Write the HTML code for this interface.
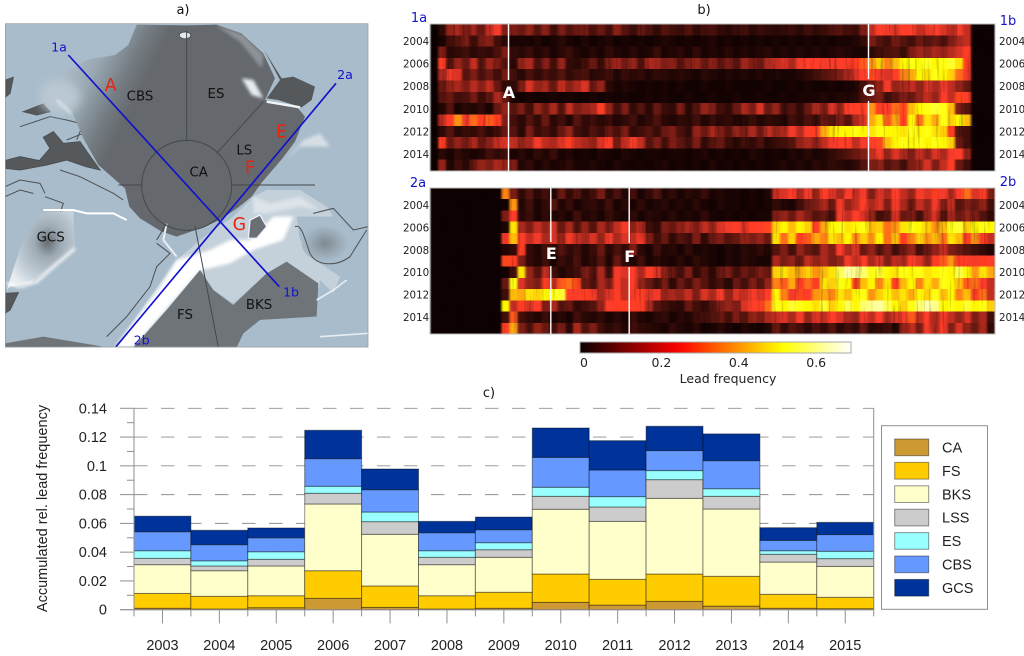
<!DOCTYPE html>
<html lang="en">
<head>
<meta charset="utf-8">
<title>Arctic lead frequency</title>
<style>
html,body{margin:0;padding:0;background:#fff;width:1024px;height:656px;overflow:hidden}
svg{display:block}
.dv{font-family:"DejaVu Sans","Liberation Sans",sans-serif}
.ls{font-family:"Liberation Sans",sans-serif}
</style>
</head>
<body>
<svg id="fig" xmlns="http://www.w3.org/2000/svg" width="1024" height="656" viewBox="0 0 1024 656">
<defs>
<linearGradient id="basinGrad" gradientUnits="userSpaceOnUse" x1="160" y1="240" x2="380" y2="350">
<stop offset="0" stop-color="#b0c0cc"/><stop offset=".4" stop-color="#98a7b2"/><stop offset=".75" stop-color="#757d83"/><stop offset="1" stop-color="#65696d"/>
</linearGradient>
<radialGradient id="gcsGrad" cx=".6" cy=".4" r=".65">
<stop offset="0" stop-color="#666b6f"/><stop offset=".3" stop-color="#9eabb5"/><stop offset=".75" stop-color="#c6d1da"/><stop offset="1" stop-color="#e6ecf0"/>
</radialGradient>
<radialGradient id="karaGrad" cx=".5" cy=".5" r=".5">
<stop offset="0" stop-color="#7f8a92"/><stop offset="1" stop-color="#a9bccb"/>
</radialGradient>
<filter id="b1" x="-10%" y="-10%" width="120%" height="120%"><feGaussianBlur stdDeviation="5"/></filter>
<filter id="b2" x="-20%" y="-20%" width="140%" height="140%"><feGaussianBlur stdDeviation="14"/></filter>
<filter id="streaks" x="0" y="0" width="100%" height="100%" color-interpolation-filters="sRGB">
<feGaussianBlur in="SourceGraphic" stdDeviation="1.1 0.25" result="soft"/>
<feTurbulence type="fractalNoise" baseFrequency="0.38 0.02" numOctaves="2" seed="7" result="noise"/>
<feColorMatrix in="noise" type="matrix" values="0.9 0 0 0 0.6  0.9 0 0 0 0.6  0.9 0 0 0 0.6  0 0 0 0 1" result="gain"/>
<feBlend in="soft" in2="gain" mode="multiply"/>
</filter>
<clipPath id="mapClip"><rect x="15" y="70" width="1090" height="972"/></clipPath>
</defs>

<text class="dv" x="183" y="14" font-size="13" text-anchor="middle" fill="#111">a)</text>
<text class="dv" x="704" y="14" font-size="13" text-anchor="middle" fill="#111">b)</text>
<text class="dv" x="489" y="397" font-size="13" text-anchor="middle" fill="#111">c)</text>

<g id="arctic-map" transform="scale(.33333)">
<g clip-path="url(#mapClip)">
<rect x="15" y="70" width="1090" height="972" fill="#a9bccb"/>
<!-- Canadian archipelago -->
<g fill="#55595c" stroke="#4c5053" stroke-width="3">
<path d="M15 482 L60 470 L118 482 L150 445 L130 412 L160 395 L190 430 L240 425 L270 468 L300 510 L258 500 L200 480 L140 495 L60 510 L15 505Z"/>
<path d="M70 335 L130 312 L150 335 L110 345Z"/>
<path d="M18 240 L40 232 L30 280 L18 290Z"/>
<path d="M15 880 L55 878 L30 930 L15 940Z"/>
</g>
<g fill="none" stroke="#4c5053" stroke-width="3">
<path d="M180 510 L240 530 L300 560 L340 580 L370 600"/>
<path d="M135 590 L190 610 L180 640"/>
<path d="M15 560 L60 540 L120 550 L135 580 M15 590 L60 570 L100 580"/>
<path d="M60 380 L150 350 L200 360 L240 370"/>
<path d="M250 370 L230 420 M200 420 L250 400"/>
</g>
<!-- central basin -->
<path d="M410 74 L560 76 L650 74 L725 100 L790 160 L825 235 L795 300 L890 320 L915 350 L885 425 L845 478 L785 548 L755 590 L715 622 L660 660 L600 685 L530 710 L485 695 L420 655 L388 620 L375 565 L295 495 L250 415 L220 345 L170 300 L145 285 L195 215 L265 178 L345 165 L385 135Z" fill="url(#basinGrad)"/>
<ellipse cx="180" cy="290" rx="60" ry="50" fill="#bac8d3" filter="url(#b2)"/>
<path d="M645 74 L730 104 L790 165 L785 205 L720 125 Z" fill="#c9d4dc" opacity=".4" filter="url(#b1)"/>
<path d="M170 300 L215 340" stroke="#e9eef2" stroke-width="6" filter="url(#b1)"/>
<ellipse cx="555" cy="106" rx="17" ry="10" fill="#e4eaef" stroke="#444" stroke-width="2"/>
<!-- laptev & east siberian land -->
<path d="M792 150 L845 235 L880 230 L945 260 L935 300 L905 322 L835 300 L800 295 L840 240 Z" fill="#55595c"/>
<path d="M725 235 L760 240 L790 295 L755 285Z" fill="#e6edf2" filter="url(#b1)"/>
<path d="M800 305 L900 322" stroke="#f2f5f7" stroke-width="7" fill="none"/>
<path d="M860 480 L910 420 L960 400 L990 440 L900 440Z" fill="#d5dee5" filter="url(#b1)"/>
<!-- Barents/Kara shelf -->
<path d="M700 650 L760 590 L800 570 L900 570 L980 620 L1000 650 L890 650 L900 720 L960 790 L1020 830 L1000 880 L950 860 L860 790 L800 820 L700 910 L640 870 L600 810 L400 1040 L345 1040 L530 780 L600 720 L640 690Z" fill="#c4d0da"/>
<path d="M345 1042 L400 1042 L480 950 L600 812 L690 790 L760 750 L850 720 L880 650 L820 650 L750 720 L690 720 L630 750 L530 780 L480 860 Z" fill="#ffffff" filter="url(#b1)"/>
<path d="M760 590 L810 610 L900 590 L960 630 L900 620 L800 640 L760 640Z" fill="#dde4ea" filter="url(#b1)"/>
<!-- Kara sea -->
<ellipse cx="975" cy="730" rx="70" ry="55" fill="url(#karaGrad)"/>
<path d="M885 680 C905 670 915 720 930 760 C950 800 1010 800 1050 770 L1100 690" fill="none" stroke="#4c5053" stroke-width="3"/>
<path d="M940 640 L1000 625 L1060 690 L1105 680" fill="none" stroke="#4c5053" stroke-width="3"/>
<!-- Svalbard -->
<path d="M750 660 L780 645 L800 680 L770 715 L745 715Z" fill="#6a6f73" stroke="#eef" stroke-width="4"/>
<!-- bottom open ocean -->
<path d="M600 810 L640 870 L700 915 L800 820 L860 785 L955 850 L950 950 L780 960 L730 1000 L710 1042 L400 1042 L500 930 Z" fill="#6f7479"/>
<path d="M15 1042 L15 1030 L130 1010 L310 1040Z" fill="#6f7479"/>
<path d="M960 840 L1000 880 L990 950 L960 1000 L900 1042 L720 1042 L780 960 L950 950Z" fill="#a9bccb"/>
<path d="M960 1010 L1105 1000 M950 900 L1000 870 L1040 840" fill="none" stroke="#e6edf2" stroke-width="5"/>
<!-- GCS -->
<path d="M20 870 L60 745 L120 640 L220 630 L225 740 L160 800 L90 850 L30 860Z" fill="url(#gcsGrad)"/>
<path d="M20 850 L60 860 L110 845 L160 800 L225 745" fill="none" stroke="#fff" stroke-width="8" filter="url(#b1)"/>
<path d="M130 630 L220 630 L260 640 L340 640 L380 660" fill="none" stroke="#fff" stroke-width="6"/>
<!-- Greenland coast -->
<path d="M470 730 L510 760 L470 800 L450 860 L380 950 L320 1010" fill="none" stroke="#4c5053" stroke-width="3"/>
<path d="M500 670 L490 720 L530 770" fill="none" stroke="#e9eef2" stroke-width="6"/>
<!-- Region lines -->
<g fill="none" stroke="#44484b" stroke-width="3">
<circle cx="560" cy="556" r="135"/>
<path d="M560 92 V421"/><path d="M790 305 L650 460"/><path d="M695 555 H945"/><path d="M425 555 H355"/><path d="M500 670 L470 720"/><path d="M585 678 L655 1042"/>
</g>
<line x1="205" y1="165" x2="838" y2="860" stroke="#1212cc" stroke-width="5"/>
<line x1="1008" y1="250" x2="348" y2="1040" stroke="#1212cc" stroke-width="5"/>
<rect x="15" y="70" width="1090" height="972" fill="none" stroke="#999" stroke-width="4"/>
</g>
<g class="dv" font-size="40" fill="#111" text-anchor="middle">
<text x="420" y="302">CBS</text>
<text x="648" y="294">ES</text>
<text x="733" y="464">LS</text>
<text x="596" y="530">CA</text>
<text x="152" y="724">GCS</text>
<text x="777" y="927">BKS</text>
<text x="555" y="957">FS</text>
</g>
<g class="dv" font-size="52" fill="#e8240c" text-anchor="middle">
<text x="332" y="273">A</text>
<text x="845" y="413">E</text>
<text x="750" y="520">F</text>
<text x="718" y="690">G</text>
</g>
<g class="dv" font-size="38" fill="#1212cc" text-anchor="middle">
<text x="177" y="154">1a</text>
<text x="873" y="889">1b</text>
<text x="1035" y="237">2a</text>
<text x="425" y="1034">2b</text>
</g>
</g>

<g id="heatLayer"></g>
<g id="barLayer"></g>
</svg>

<script>
// Panel b: lead frequency (in hundredths), one row per year, transect 1a-1b
const heatTop = [
[0,6,16,18,14,17,12,20,24,14,14,12,16,10,15,8,14,10,12,13,9,12,8,15,10,7,12,9,6,10,8,7,10,6,8,9,6,5,7,8,5,7,6,5,6,7,5,8,6,7,9,10,8,7,14,20,26,24,22,27,25,20,23,26,22,19,24,20,1,1,1],
[0,3,8,10,14,7,13,15,8,5,3,3,3,4,2,3,5,3,2,4,2,3,4,2,3,2,3,2,3,4,3,2,3,2,3,4,2,3,2,3,2,3,2,3,2,3,2,3,2,3,2,3,3,4,6,14,10,8,13,10,8,12,10,12,9,14,18,20,1,1,1],
[0,14,5,6,8,5,7,6,9,14,6,5,7,4,6,3,5,7,4,3,5,3,6,4,3,5,3,4,7,3,4,5,3,6,3,4,3,5,3,4,3,4,5,3,4,3,4,3,4,3,4,5,4,3,3,6,8,9,10,7,14,17,15,18,16,19,22,26,1,1,1],
[0,28,10,16,12,20,10,17,14,10,5,16,18,9,15,8,16,6,5,8,12,7,14,17,13,16,9,18,17,14,15,10,14,16,12,15,11,14,10,17,14,12,18,20,22,18,24,26,25,24,24,26,26,30,34,40,46,38,44,50,52,51,53,50,52,54,48,30,1,1,1],
[0,18,24,22,10,14,9,12,8,14,8,5,9,6,9,7,10,6,8,9,5,6,8,4,7,5,6,4,6,5,4,5,4,3,5,4,3,4,3,4,3,4,3,4,3,3,4,6,8,10,12,14,18,22,26,32,24,22,28,38,42,50,48,52,50,46,36,24,1,1,1],
[0,12,16,18,14,19,15,20,12,6,6,14,22,16,18,12,20,15,18,22,12,16,5,3,4,3,2,3,2,3,2,3,2,2,3,2,2,3,2,2,2,2,3,2,2,3,2,3,2,2,3,2,3,4,8,12,16,24,16,18,20,16,22,18,24,20,16,12,1,1,1],
[0,10,12,8,9,13,7,11,18,12,3,2,3,2,2,3,2,3,2,2,3,2,3,2,3,2,2,3,2,3,2,2,3,2,2,3,2,2,3,2,2,3,2,2,3,2,3,3,3,4,3,4,4,5,10,12,14,8,10,14,12,16,20,16,26,20,32,26,1,1,1],
[0,4,10,3,5,4,6,3,12,16,10,14,8,16,12,18,10,20,14,16,18,30,16,8,14,6,10,5,12,7,6,14,5,10,16,14,8,6,12,18,14,22,12,16,8,10,6,12,18,14,22,16,28,26,30,40,30,26,36,32,44,50,52,54,52,44,14,10,1,1,1],
[0,20,26,40,24,36,30,34,30,14,8,5,10,6,12,5,8,4,10,6,8,5,7,4,6,8,4,6,9,5,4,6,5,8,4,7,5,6,4,5,7,4,6,5,4,8,6,9,7,12,10,14,10,18,22,42,48,34,42,30,50,36,48,42,52,46,50,44,1,1,1],
[0,6,10,5,7,6,9,5,8,12,10,5,14,7,9,6,12,16,8,6,10,7,12,9,14,6,8,10,7,12,14,9,6,16,12,18,14,10,16,14,18,12,20,16,18,24,20,26,30,42,48,50,50,52,50,48,52,50,50,48,52,50,52,48,46,30,10,8,1,1,1],
[0,30,12,16,13,18,12,15,20,22,20,16,18,24,20,18,22,30,20,18,16,22,26,13,20,24,20,10,14,8,14,11,8,14,6,10,12,7,5,8,6,9,5,7,8,10,16,18,15,20,24,26,28,20,24,26,32,44,50,52,50,52,50,52,50,46,12,8,1,1,1],
[0,5,3,6,4,3,4,8,6,8,3,5,3,6,4,7,3,4,2,3,2,4,3,2,4,3,2,3,3,2,3,3,2,3,4,2,3,2,3,2,4,3,2,3,2,4,3,5,3,4,6,8,10,12,14,20,24,16,22,18,14,20,16,22,18,24,26,16,1,1,1],
[0,16,4,8,5,12,16,14,18,16,14,4,6,3,5,3,4,6,3,3,4,3,2,4,3,2,3,2,3,4,2,3,2,3,2,4,2,3,2,3,2,3,2,3,4,3,4,3,5,4,6,5,4,6,10,14,16,10,12,8,14,16,22,14,20,30,12,8,1,1,1]
];
// Panel b: transect 2a-2b
const heatBottom = [
[1,1,1,1,1,1,1,1,1,38,14,6,10,5,8,4,12,6,10,5,8,14,5,9,4,8,3,6,10,4,6,3,5,4,7,3,4,3,3,2,3,2,4,20,22,26,18,24,16,28,22,18,26,20,24,14,22,18,26,20,16,26,22,30,24,18,26,36,22,28,14],
[1,1,1,1,1,1,1,1,1,2,40,4,8,3,6,10,4,7,3,5,6,4,8,3,5,3,6,3,4,5,3,4,3,5,3,2,4,3,3,2,3,2,3,6,4,3,8,12,14,18,12,24,16,20,26,18,22,14,24,18,12,20,16,24,14,20,10,14,12,16,8],
[1,1,1,1,1,1,1,1,1,14,26,5,7,3,6,4,5,3,8,4,5,3,7,4,3,6,3,5,4,3,5,3,4,3,6,3,2,3,2,3,2,3,3,14,16,12,18,14,10,12,8,24,20,26,22,16,8,10,22,12,14,8,16,22,10,18,12,16,14,10,6],
[1,1,1,1,1,1,1,1,1,3,48,18,14,20,16,22,12,18,10,16,10,18,14,20,24,16,20,8,6,14,12,16,18,14,20,16,22,24,26,22,28,26,32,46,50,44,50,46,28,42,50,52,48,50,52,44,46,36,40,48,52,50,46,40,44,52,54,46,50,52,50],
[1,1,1,1,1,1,1,1,1,24,44,26,20,24,18,22,16,24,20,18,22,16,24,18,22,20,26,14,8,12,6,10,8,14,6,12,14,10,12,16,14,16,12,48,36,46,30,34,42,38,48,44,50,38,46,40,50,36,44,30,38,46,40,44,36,48,44,30,40,28,20],
[1,1,1,1,1,1,1,1,1,4,6,30,6,4,8,5,10,6,8,4,7,12,5,9,6,14,5,3,8,4,5,3,6,3,4,3,2,4,3,5,4,6,4,10,14,8,16,12,10,18,14,26,18,22,12,16,10,14,8,12,16,8,12,16,20,14,12,10,8,6,4],
[1,1,1,1,1,1,1,1,1,32,30,14,6,4,8,3,7,5,9,4,6,10,4,12,6,4,8,3,5,4,3,5,3,6,4,3,2,4,3,5,4,3,3,18,14,16,12,20,16,18,14,16,24,20,26,18,22,14,20,18,26,22,16,28,34,40,30,26,24,30,26],
[1,1,1,1,1,1,1,1,1,2,8,48,16,10,20,8,4,6,8,14,10,18,8,24,22,26,18,28,22,16,12,8,14,6,10,5,12,14,8,12,10,14,12,46,48,44,42,46,40,44,48,56,62,60,58,52,54,50,48,52,50,52,48,50,52,50,56,50,40,48,42],
[1,1,1,1,1,1,1,1,1,12,52,22,16,14,28,20,34,36,32,12,10,18,14,24,20,26,16,12,8,14,6,12,8,14,10,6,9,5,12,8,14,10,16,38,34,42,30,36,28,48,46,52,50,30,44,50,38,48,30,44,50,38,48,42,52,50,44,34,36,26,20],
[1,1,1,1,1,1,1,1,1,8,44,42,48,46,50,52,54,28,26,30,24,18,22,28,20,24,30,22,24,16,18,16,20,14,22,18,24,16,22,20,24,22,26,50,38,24,32,26,40,42,38,48,44,50,52,40,46,50,44,48,42,50,46,52,44,50,38,44,30,36,20],
[1,1,1,1,1,1,1,1,1,50,20,30,22,26,14,18,10,12,6,8,10,16,26,28,30,26,30,18,10,8,6,5,12,8,6,10,14,16,14,22,26,30,36,52,50,54,52,50,48,54,46,50,56,50,58,60,62,56,50,46,52,58,62,60,50,52,50,54,50,52,46],
[1,1,1,1,1,1,1,1,1,8,34,8,6,4,7,3,5,3,8,5,4,6,3,5,3,7,4,3,5,6,3,5,4,7,8,10,12,8,14,10,16,14,18,20,22,18,24,16,22,20,26,22,18,16,24,20,26,18,22,24,34,20,26,18,24,20,16,22,14,18,8],
[1,1,1,1,1,1,1,1,1,30,42,14,10,16,12,8,14,6,18,10,14,8,5,7,4,8,6,5,4,3,6,4,3,5,2,3,5,3,2,4,3,2,4,12,6,10,8,5,9,6,10,5,8,6,12,5,6,8,4,16,20,14,24,18,26,14,22,16,12,18,6]
];
const heatYearLabels = ['2004','2006','2008','2010','2012','2014'];
const colorbarTicks = [0, 0.2, 0.4, 0.6];
const colorbarMax = 0.70;

// Panel c: stacked bars
const barYears = ['2003','2004','2005','2006','2007','2008','2009','2010','2011','2012','2013','2014','2015'];
const seriesNames = ['CA','FS','BKS','LSS','ES','CBS','GCS'];
const seriesCA  = [.001,.0005,.0014,.0079,.0016,.0005,.001,.0051,.0032,.0058,.0025,.001,.0007];
const seriesFS  = [.0103,.0088,.0083,.0192,.0149,.0092,.0111,.0197,.0179,.019,.0207,.0097,.0079];
const seriesBKS = [.02,.0178,.0207,.0464,.0359,.0216,.0243,.045,.0403,.0526,.0468,.0224,.0215];
const seriesLSS = [.0044,.0033,.0046,.0074,.0088,.0051,.0053,.009,.01,.013,.0088,.0054,.0054];
const seriesES  = [.0053,.0036,.0053,.0049,.0067,.0046,.0049,.0063,.0072,.0063,.0053,.0025,.0051];
const seriesCBS = [.0132,.0112,.0097,.0192,.0155,.0125,.009,.0208,.0185,.0139,.0195,.0072,.0116];
const seriesGCS = [.0108,.01,.0068,.0197,.0144,.0079,.0088,.0204,.0204,.0169,.0186,.0088,.0085];
const seriesColors = ['#cc9933','#ffcc00','#ffffcc','#cccccc','#99ffff','#6699ff','#003399'];
const yTickLabels = ['0','0.02','0.04','0.06','0.08','0.1','0.12','0.14'];
const yTickValues = [0,0.02,0.04,0.06,0.08,0.1,0.12,0.14];

const NS = 'http://www.w3.org/2000/svg';
function mk(tag, parent, attrs, txt){
  const e = document.createElementNS(NS, tag);
  for (const k in attrs) e.setAttribute(k, attrs[k]);
  if (txt !== undefined) e.textContent = txt;
  parent.appendChild(e);
  return e;
}
function clamp01(x){ return Math.max(0, Math.min(1, x)); }
// Pure colour scale, used for the colorbar
function hot(v){
  const f = clamp01(v / 0.68);
  const r = Math.min(1, f / 0.365);
  const g = clamp01((f - 0.365) / 0.381);
  const b = clamp01((f - 0.746) / 0.254);
  return 'rgb(' + Math.round(10 + 245 * r) + ',' + Math.round(255 * g) + ',' + Math.round(255 * b) + ')';
}
// Same scale with the darker, slightly desaturated look the resampled image cells have
function cellColor(v){
  const f = clamp01(v / 0.68);
  const r = Math.pow(Math.min(1, f / 0.365), 1.3);
  const hg = clamp01((f - 0.365) / 0.381);
  const hb = clamp01((f - 0.746) / 0.254);
  const g = Math.max(hg, 0.24 * r);
  const b = Math.max(hb, 0.17 * r * (1 - hg));
  return 'rgb(' + Math.round(10 + 245 * r) + ',' + Math.round(255 * g) + ',' + Math.round(255 * b) + ')';
}

/* ---------- heatmaps ---------- */
const heatLayer = document.getElementById('heatLayer');
const HX0 = 430, HX1 = 995;
function xHeat(c, n){ return HX0 + (HX1 - HX0) * c / n; }
function drawHeat(rows, top, bottom, name){
  const g = mk('g', heatLayer, {filter:'url(#streaks)'});
  
  
  const rh = (bottom - top) / rows.length;
  rows.forEach(function(row, r){
    row.forEach(function(val, c){
      const x0 = xHeat(c, row.length), x1 = xHeat(c + 1, row.length);
      const cell = mk('rect', g, {x:x0, y:top + r * rh, width:x1 - x0 + 0.4, height:rh + 0.3, fill:cellColor(val / 100), 'shape-rendering':'crispEdges'});
      
      
    });
  });
  const frame = mk('rect', heatLayer, {x:HX0, y:top, width:HX1 - HX0, height:bottom - top, fill:'none', stroke:'#bbb', 'stroke-width':1});
  
  
  heatYearLabels.forEach(function(lab){
    const yr = parseInt(lab, 10) - 2003;
    const y = top + (yr + 0.5) * rh + 4;
    const l = mk('text', heatLayer, {x:403, y:y, 'font-size':10.3, fill:'#222', class:'dv'}, lab);
    
    
    const rl = mk('text', heatLayer, {x:999, y:y, 'font-size':10.3, fill:'#222', class:'dv'}, lab);
    
    
  });
}
drawHeat(heatTop, 24, 171, 'heatmap-transect-1');
drawHeat(heatBottom, 188, 334, 'heatmap-transect-2');

function marker(x, y0, y1, y2, y3, letter, ty){
  const a = mk('line', heatLayer, {x1:x, x2:x, y1:y0, y2:y1, stroke:'#fff', 'stroke-width':1.4});
  
  
  const b = mk('line', heatLayer, {x1:x, x2:x, y1:y2, y2:y3, stroke:'#fff', 'stroke-width':1.4});
  
  
  const t = mk('text', heatLayer, {x:x + 0.5, y:ty, 'font-size':16, 'font-weight':'bold', fill:'#fff', 'text-anchor':'middle', class:'dv'}, letter);
  
  
}
marker(508.5, 24, 80, 102, 171, 'A', 98);
marker(868.5, 24, 79, 101, 171, 'G', 96);
marker(550.8, 188, 242, 266, 334, 'E', 259);
marker(629.2, 188, 243, 267, 334, 'F', 262);

[['1a',419,22],['1b',1008,25],['2a',418,187],['2b',1008,186]].forEach(function(d){
  const t = mk('text', heatLayer, {x:d[1], y:d[2], 'font-size':13, fill:'#1212cc', 'text-anchor':'middle', class:'dv'}, d[0]);
  
  
});

/* colorbar */
const CBX = 580, CBW = 271, CBY = 342, CBH = 11;
const defs = document.querySelector('defs');
const cbGrad = mk('linearGradient', defs, {id:'cbGrad'});
for (let i = 0; i <= 20; i++){
  mk('stop', cbGrad, {offset:i / 20, 'stop-color':hot(0.68 * i / 20)});
}
const cb = mk('rect', heatLayer, {x:CBX, y:CBY, width:CBW, height:CBH, fill:'url(#cbGrad)', stroke:'#aaa', 'stroke-width':1});


function xCb(v){ return 584 + v * 387; }
colorbarTicks.forEach(function(v){
  const t = mk('text', heatLayer, {x:xCb(v), y:367, 'font-size':12.5, fill:'#222', 'text-anchor':'middle', class:'dv'}, String(v));
  
  
});
const cbTitle = mk('text', heatLayer, {x:728, y:383, 'font-size':12.5, fill:'#222', 'text-anchor':'middle', class:'dv'}, 'Lead frequency');



/* ---------- bars ---------- */
const bl = document.getElementById('barLayer');
const seriesData = [seriesCA, seriesFS, seriesBKS, seriesLSS, seriesES, seriesCBS, seriesGCS];
const PX0 = 134, PX1 = 873.7, PY0 = 609.7, PY1 = 408.3, YMAX = 0.14;
function yPos(v){ return PY0 - (v / YMAX) * (PY0 - PY1); }
function xPos(i){ return PX0 + i * (PX1 - PX0) / barYears.length; }

yTickValues.forEach(function(v){
  if (v === 0) return;
  const g = mk('line', bl, {x1:PX0, x2:PX1, y1:yPos(v), y2:yPos(v), stroke:'#8f8f8f', 'stroke-width':0.9, 'stroke-dasharray':'13.5 13.5'});
  
  
});
const barW = (PX1 - PX0) / barYears.length;
barYears.forEach(function(yr, i){
  let cum = 0;
  seriesData.forEach(function(s, k){
    const y0 = yPos(cum);
    cum += s[i];
    const y1 = yPos(cum);
    const rect = mk('rect', bl, {x:xPos(i), y:y1, width:barW, height:y0 - y1, fill:seriesColors[k], stroke:'#000', 'stroke-opacity':0.42, 'stroke-width':1});
    
    
  });
});
const axis = mk('path', bl, {d:'M' + PX0 + ' ' + PY1 + ' V' + PY0 + ' M' + PX1 + ' ' + PY1 + ' V' + PY0 + ' M120 ' + PY0 + ' H' + PX1, fill:'none', stroke:'#8f8f8f', 'stroke-width':1});


yTickValues.forEach(function(v, i){
  const tk = mk('line', bl, {x1:120, x2:PX0, y1:yPos(v), y2:yPos(v), stroke:'#8f8f8f', 'stroke-width':1});
  
  
  if (v < YMAX){
    const m = mk('line', bl, {x1:127, x2:PX0, y1:yPos(v + 0.01), y2:yPos(v + 0.01), stroke:'#8f8f8f', 'stroke-width':1});
    
    
  }
  const lab = mk('text', bl, {x:107, y:yPos(v) + 5, 'font-size':14.5, fill:'#222', 'text-anchor':'end', class:'ls'}, yTickLabels[i]);
  
  
});
for (let i = 0; i <= barYears.length; i++){
  const e = mk('line', bl, {x1:xPos(i), x2:xPos(i), y1:PY0, y2:PY0 + 6.7, stroke:'#8f8f8f', 'stroke-width':1});
  
  
}
barYears.forEach(function(yr, i){
  const c = xPos(i) + barW / 2;
  const tick = mk('line', bl, {x1:c, x2:c, y1:PY0, y2:PY0 + 13.7, stroke:'#8f8f8f', 'stroke-width':1});
  
  
  const t = mk('text', bl, {x:c, y:650, 'font-size':14.5, fill:'#222', 'text-anchor':'middle', class:'ls'}, yr);
  
  
});
const yTitle = mk('text', bl, {transform:'translate(47,508.5) rotate(-90)', 'font-size':14.5, fill:'#222', 'text-anchor':'middle', class:'ls'}, 'Accumulated rel. lead frequency');



/* legend */
const lg = mk('g', bl, {});


const lgBox = mk('rect', lg, {x:881.5, y:425.7, width:106, height:183.6, fill:'#fff', stroke:'#8f8f8f', 'stroke-width':1});


seriesNames.forEach(function(n, k){
  const y = 439 + k * 23.4;
  const sw = mk('rect', lg, {x:894.7, y:y, width:34, height:16.7, fill:seriesColors[k], stroke:'#000', 'stroke-opacity':0.42, 'stroke-width':1});
  
  
  const t = mk('text', lg, {x:942, y:y + 13.5, 'font-size':14.5, fill:'#222', class:'ls'}, n);
  
  
});
</script>
</body>
</html>
